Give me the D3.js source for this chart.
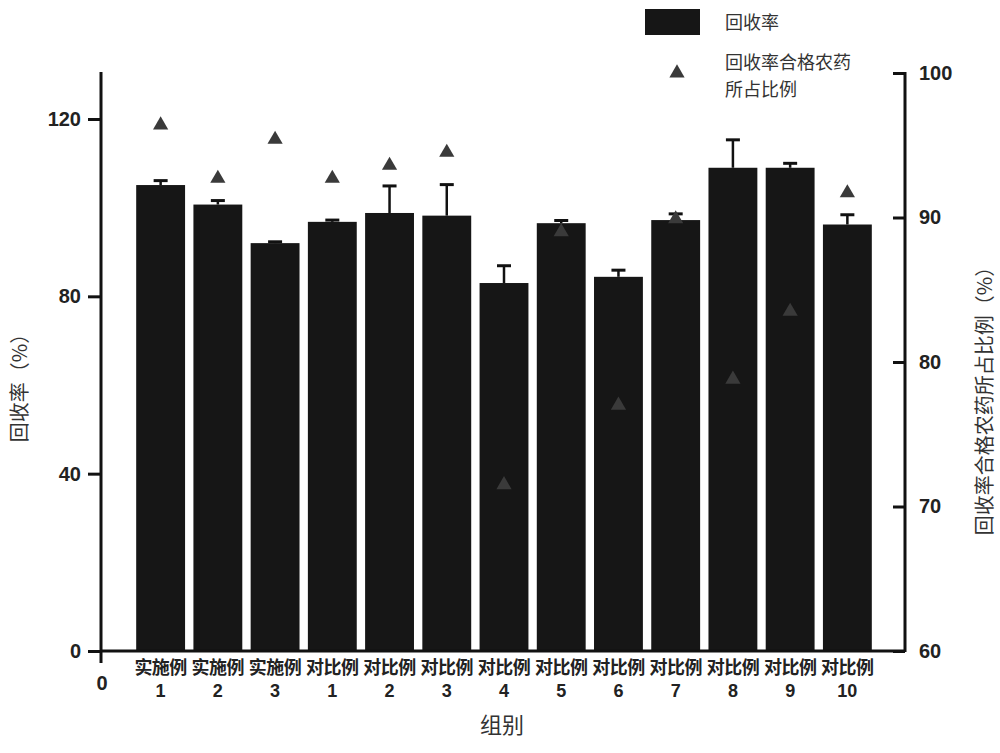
<!DOCTYPE html>
<html>
<head>
<meta charset="utf-8">
<script src="https://cdn.jsdelivr.net/npm/d3@7"></script>
<style>
  body { margin: 0; background: #fff; }
  .tick text { font-family: 'Liberation Sans', Arial, sans-serif; font-weight: bold; }
</style>
</head>
<body>
<svg id="chart" width="1000" height="753"></svg>
<script>
'use strict';

// x groups (two-line labels)
var groupNames = ['实施例', '实施例', '实施例', '对比例', '对比例', '对比例', '对比例',
  '对比例', '对比例', '对比例', '对比例', '对比例', '对比例'];
var groupNums = ['1', '2', '3', '1', '2', '3', '4', '5', '6', '7', '8', '9', '10'];

// 回收率 (%) and its error
var recovery = [105.1, 100.7, 92.0, 96.8, 98.8, 98.2, 83.0, 96.5, 84.4, 97.2, 109.0, 109.0, 96.2];
var recoveryErr = [1.0, 0.9, 0.3, 0.4, 6.1, 7.0, 3.9, 0.6, 1.5, 1.4, 6.3, 1.0, 2.2];

// 回收率合格农药所占比例 (%)
var passRatio = [96.4, 92.7, 95.4, 92.7, 93.6, 94.5, 71.5, 89.0, 77.0, 89.9, 78.8, 83.5, 91.7];

var leftTicks = [0, 40, 80, 120];
var rightTicks = [60, 70, 80, 90, 100];

var svg = d3.select('#chart'),
  plotLeft = 101, plotRight = 905, plotTop = 72, plotBottom = 651;

var x = d3.scaleBand()
  .domain(d3.range(groupNums.length))
  .range([plotLeft + 2, plotRight])
  .paddingInner(0.146)
  .paddingOuter(0.58);

var y = d3.scaleLinear()
  .domain([0, 130.6])
  .range([plotBottom, plotTop]);

var y2 = d3.scaleLinear()
  .domain([60, 100])
  .range([plotBottom, plotTop + 1]);

// bars
svg.append('g')
  .selectAll('rect')
  .data(recovery)
  .enter().append('rect')
  .attr('x', function(d, i) { return x(i); })
  .attr('y', function(d) { return y(d); })
  .attr('width', x.bandwidth())
  .attr('height', function(d) { return y(0) - y(d); })
  .attr('fill', '#161616');

// error bars (upper half only)
var err = svg.append('g')
  .attr('stroke', '#111')
  .selectAll('g')
  .data(recovery)
  .enter().append('g');

err.append('line')
  .attr('x1', function(d, i) { return x(i) + x.bandwidth() / 2; })
  .attr('x2', function(d, i) { return x(i) + x.bandwidth() / 2; })
  .attr('y1', function(d) { return y(d); })
  .attr('y2', function(d, i) { return y(d + recoveryErr[i]); })
  .attr('stroke-width', 2.5);

err.append('line')
  .attr('x1', function(d, i) { return x(i) + x.bandwidth() / 2 - 7; })
  .attr('x2', function(d, i) { return x(i) + x.bandwidth() / 2 + 7; })
  .attr('y1', function(d, i) { return y(d + recoveryErr[i]); })
  .attr('y2', function(d, i) { return y(d + recoveryErr[i]); })
  .attr('stroke-width', 3);

// triangles
var tri = d3.symbol().type(d3.symbolTriangle).size(100);

svg.append('g')
  .selectAll('path')
  .data(passRatio)
  .enter().append('path')
  .attr('d', tri)
  .attr('transform', function(d, i) {
    return 'translate(' + (x(i) + x.bandwidth() / 2) + ',' + y2(d) + ')';
  })
  .attr('fill', '#3a3a3a');

// left axis
var gl = svg.append('g')
  .attr('transform', 'translate(' + plotLeft + ',0)')
  .call(d3.axisLeft(y).tickValues(leftTicks).tickSize(13).tickPadding(7).tickSizeOuter(0));
gl.select('.domain').remove();
gl.selectAll('.tick line').attr('stroke', '#111').attr('stroke-width', 3);
gl.selectAll('.tick text').attr('font-size', 20).attr('fill', '#222');
gl.append('line')
  .attr('x1', 0).attr('x2', 0)
  .attr('y1', y.range()[1]).attr('y2', y(0) + 12)
  .attr('stroke', '#111').attr('stroke-width', 3);

// right axis, ticks pointing inward
var gr = svg.append('g')
  .attr('transform', 'translate(' + plotRight + ',0)')
  .call(d3.axisRight(y2).tickValues(rightTicks).tickSize(-12).tickPadding(14).tickSizeOuter(0));
gr.select('.domain').remove();
gr.selectAll('.tick line').attr('stroke', '#111').attr('stroke-width', 3);
gr.selectAll('.tick text').attr('font-size', 20).attr('fill', '#222');
gr.append('line')
  .attr('x1', 0).attr('x2', 0)
  .attr('y1', y2.range()[1] - 1).attr('y2', y2.range()[0] + 1)
  .attr('stroke', '#111').attr('stroke-width', 3);

// x axis line
svg.append('line')
  .attr('x1', plotLeft).attr('x2', plotRight)
  .attr('y1', y(0)).attr('y2', y(0))
  .attr('stroke', '#111').attr('stroke-width', 3);

svg.append('text')
  .attr('x', plotLeft + 1).attr('y', y(0) + 39)
  .attr('text-anchor', 'middle')
  .attr('font-family', 'Liberation Sans, Arial, sans-serif')
  .attr('font-weight', 'bold').attr('font-size', 20).attr('fill', '#222')
  .text('0');

// x labels
var xl = svg.append('g')
  .selectAll('text')
  .data(groupNums)
  .enter().append('text')
  .attr('x', function(d, i) { return x(i) + x.bandwidth() / 2; })
  .attr('text-anchor', 'middle')
  .attr('font-family', 'Noto Sans CJK SC, sans-serif')
  .attr('font-weight', 'bold')
  .attr('font-size', 18)
  .attr('fill', '#222');

xl.append('tspan')
  .attr('x', function(d, i) { return x(i) + x.bandwidth() / 2; })
  .attr('y', y(0) + 23)
  .attr('letter-spacing', -0.5)
  .text(function(d, i) { return groupNames[i]; });
xl.append('tspan')
  .attr('x', function(d, i) { return x(i) + x.bandwidth() / 2; })
  .attr('y', y(0) + 46)
  .attr('font-family', 'Liberation Sans, Arial, sans-serif')
  .text(function(d) { return d; });

// axis titles
var cjk = 'Noto Sans CJK SC, sans-serif';

svg.append('text')
  .attr('transform', 'translate(27,383) rotate(-90)')
  .attr('text-anchor', 'middle')
  .attr('font-family', cjk).attr('font-size', 20).attr('fill', '#333')
  .text('回收率（%）');

svg.append('text')
  .attr('transform', 'translate(992,396) rotate(-90)')
  .attr('text-anchor', 'middle')
  .attr('font-family', cjk).attr('font-size', 20).attr('fill', '#333')
  .text('回收率合格农药所占比例（%）');

svg.append('text')
  .attr('x', 502).attr('y', 733)
  .attr('text-anchor', 'middle')
  .attr('font-family', cjk).attr('font-size', 22).attr('fill', '#333')
  .text('组别');

// legend
var lg = svg.append('g').attr('font-family', cjk).attr('font-size', 18).attr('fill', '#333');
lg.append('rect')
  .attr('x', 645).attr('y', 9).attr('width', 55).attr('height', 26)
  .attr('fill', '#161616');
lg.append('text').attr('x', 725).attr('y', 29).text('回收率');
lg.append('path')
  .attr('d', tri)
  .attr('transform', 'translate(677,73)')
  .attr('fill', '#3a3a3a');
lg.append('text').attr('x', 725).attr('y', 69).text('回收率合格农药');
lg.append('text').attr('x', 725).attr('y', 96).text('所占比例');
</script>
</body>
</html>
